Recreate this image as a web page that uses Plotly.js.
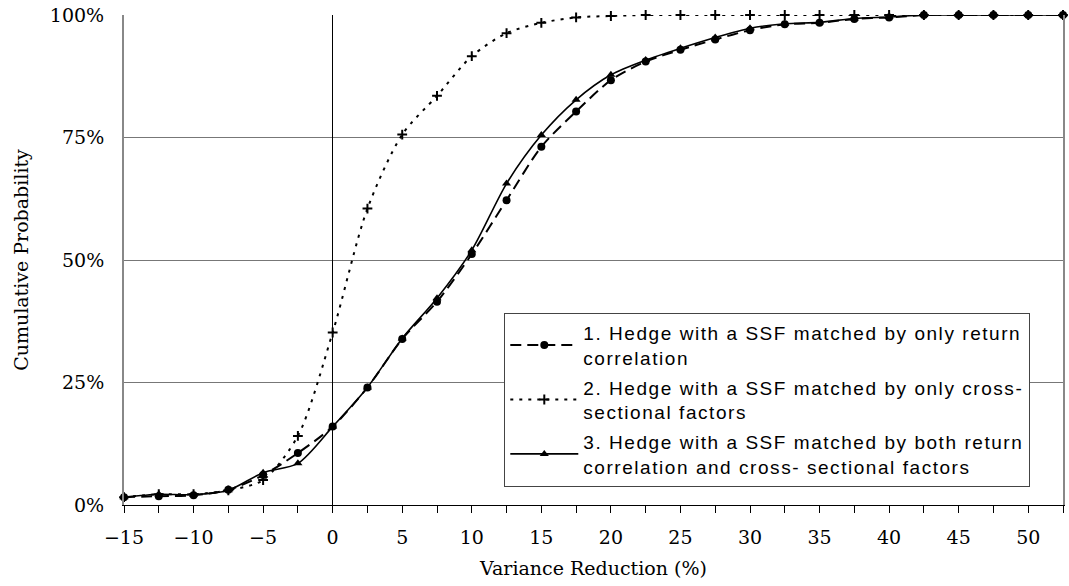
<!DOCTYPE html>
<html>
<head>
<meta charset="utf-8">
<script src="https://cdn.plot.ly/plotly-3.0.1.min.js"></script>
<style>html,body{margin:0;padding:0;background:#fff;}</style>
</head>
<body>
<div id="chart" style="width:1069px;height:586px;"></div>
<script>
// Variance reduction (%) categories
const varianceReduction = [-15, -12.5, -10, -7.5, -5, -2.5, 0, 2.5, 5, 7.5, 10, 12.5, 15, 17.5, 20, 22.5, 25, 27.5, 30, 32.5, 35, 37.5, 40, 42.5, 45, 47.5, 50, 52.5];

// Cumulative probability (%) per series
const seriesReturnCorr = [1.6, 1.8, 2.0, 3.1, 6.1, 10.6, 16.0, 24.0, 33.9, 41.5, 51.2, 62.2, 73.1, 80.3, 86.7, 90.5, 92.9, 95.0, 96.9, 98.1, 98.4, 99.2, 99.5, 100, 100, 100, 100, 100];
const seriesCrossSection = [1.6, 2.2, 2.2, 3.0, 5.1, 14.1, 35.2, 60.5, 75.6, 83.5, 91.6, 96.3, 98.4, 99.5, 99.8, 100, 100, 100, 100, 100, 100, 100, 100, 100, 100, 100, 100, 100];
const seriesBoth = [1.6, 2.2, 2.1, 3.0, 6.6, 8.5, 16.0, 24.0, 34.0, 42.2, 52.0, 65.6, 75.5, 82.7, 87.8, 90.8, 93.2, 95.4, 97.3, 98.2, 98.5, 99.3, 99.6, 100, 100, 100, 100, 100];

const seriesNames = [
  "1. Hedge with a SSF matched by only return<br>correlation",
  "2. Hedge with a SSF matched by only cross-<br>sectional factors",
  "3. Hedge with a SSF matched by both return<br>correlation and cross- sectional factors"
];

// Axis ticks
const xTickVals = [-15, -12.5, -10, -7.5, -5, -2.5, 0, 2.5, 5, 7.5, 10, 12.5, 15, 17.5, 20, 22.5, 25, 27.5, 30, 32.5, 35, 37.5, 40, 42.5, 45, 47.5, 50, 52.5];
const xTickText = ["\u221215", "", "\u221210", "", "\u22125", "", "0", "", "5", "", "10", "", "15", "", "20", "", "25", "", "30", "", "35", "", "40", "", "45", "", "50", ""];
const yTickVals = [0, 25, 50, 75, 100];
const yTickText = ["0%", "25%", "50%", "75%", "100%"];

const SP = '<span style="letter-spacing:1.55px">';
const spaced = s => SP + s.split('<br>').join('</span><br>' + SP) + '</span>';

const traces = [
  {
    x: varianceReduction, y: seriesReturnCorr, name: spaced(seriesNames[0]), legendgroup: 'g1',
    type: 'scatter', mode: 'lines+markers', cliponaxis: false,
    line: {color: '#000', width: 2, dash: '11px,6px', shape: 'spline', smoothing: 0.8},
    marker: {symbol: 'circle', size: 8, color: '#000'}
  },
  {
    x: varianceReduction, y: seriesCrossSection, name: spaced(seriesNames[1]), legendgroup: 'g2',
    type: 'scatter', mode: 'lines+markers', cliponaxis: false,
    line: {color: '#000', width: 2, dash: '3px,6px', shape: 'spline', smoothing: 0.8},
    marker: {symbol: 'cross-thin', size: 7, color: '#000', line: {color: '#000', width: 2}}
  },
  {
    x: varianceReduction, y: seriesBoth, name: spaced(seriesNames[2]), legendgroup: 'g3',
    type: 'scatter', mode: 'lines+markers', cliponaxis: false,
    line: {color: '#000', width: 1.6, shape: 'spline', smoothing: 0.8},
    marker: {symbol: 'triangle-up', size: 8, color: '#000'}
  }
];

const serif = 'DejaVu Serif, Liberation Serif, serif';

const layout = {
  width: 1069, height: 586,
  margin: {l: 124, r: 6, t: 15, b: 81},
  paper_bgcolor: '#fff', plot_bgcolor: '#fff',
  showlegend: true,
  legend: {
    x: 0.405, y: 0.392, xanchor: 'left', yanchor: 'top',
    bgcolor: '#fff', bordercolor: '#444', borderwidth: 1,
    font: {family: 'Liberation Sans, Arial, sans-serif', size: 19, color: '#000'},
    itemwidth: 68, tracegroupgap: 2
  },
  xaxis: {
    range: [-15, 52.5], fixedrange: true,
    tickmode: 'array', tickvals: xTickVals, ticktext: xTickText,
    ticks: 'outside', ticklen: 7, tickcolor: '#000', tickwidth: 1,
    ticklabelstandoff: 8,
    showline: true, linecolor: '#000', linewidth: 1,
    showgrid: false,
    zeroline: true, zerolinecolor: '#000', zerolinewidth: 1,
    tickfont: {family: serif, size: 19, color: '#000'},
    title: {text: 'Variance Reduction (%)', font: {family: serif, size: 19, color: '#000'}, standoff: 14},
    automargin: false
  },
  yaxis: {
    range: [0, 100], fixedrange: true,
    tickmode: 'array', tickvals: yTickVals, ticktext: yTickText,
    ticks: '', ticklabelstandoff: 14,
    showline: true, linecolor: '#888', linewidth: 2, mirror: true,
    showgrid: true, gridcolor: '#777', gridwidth: 1,
    zeroline: false,
    tickfont: {family: serif, size: 19, color: '#000'},
    title: {text: 'Cumulative Probability', font: {family: serif, size: 19, color: '#000'}, standoff: 16},
    automargin: false
  }
};

Plotly.newPlot('chart', traces, layout, {displayModeBar: false, staticPlot: true});
</script>
</body>
</html>
